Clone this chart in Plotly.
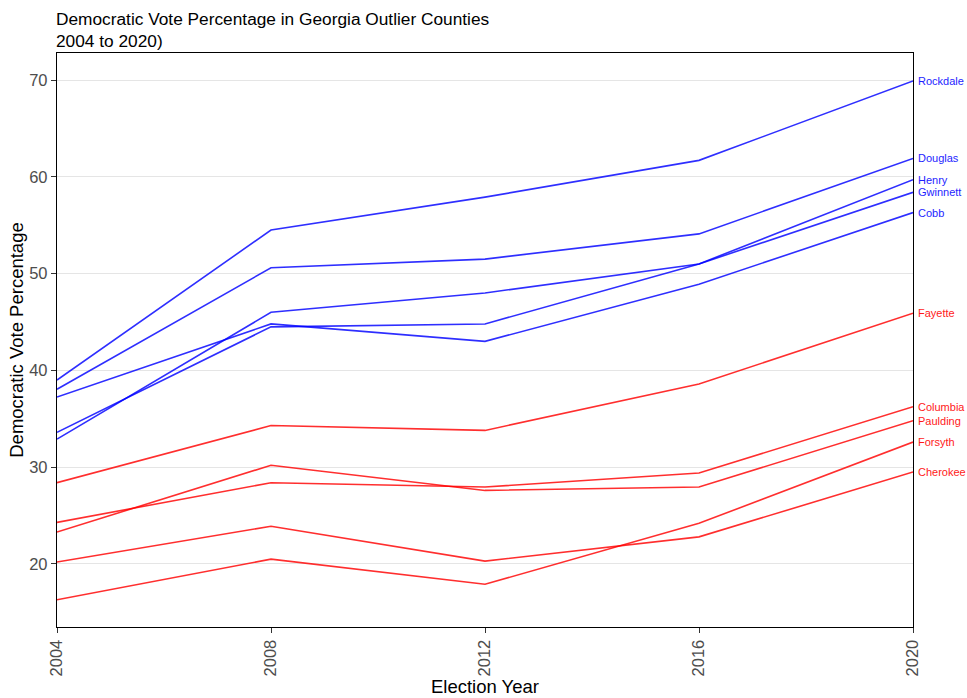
import plotly.graph_objects as go

years = [2004, 2008, 2012, 2016, 2020]

blue_counties = ["Rockdale", "Douglas", "Henry", "Gwinnett", "Cobb"]
blue_values = [
    [39.0, 54.5, 57.9, 61.7, 69.9],
    [38.05, 50.6, 51.5, 54.1, 61.9],
    [32.9, 46.0, 48.0, 51.0, 59.7],
    [33.6, 44.5, 44.8, 51.0, 58.4],
    [37.25, 44.8, 43.0, 48.9, 56.3],
]

red_counties = ["Fayette", "Columbia", "Paulding", "Forsyth", "Cherokee"]
red_values = [
    [28.4, 34.3, 33.8, 38.6, 45.9],
    [24.3, 28.4, 27.95, 29.4, 36.25],
    [23.3, 30.2, 27.6, 27.95, 34.8],
    [16.3, 20.5, 17.9, 24.2, 32.6],
    [20.2, 23.9, 20.3, 22.8, 29.5],
]

y_ticks = [20, 30, 40, 50, 60, 70]
x_ticks = [2004, 2008, 2012, 2016, 2020]

BLUE = "rgba(0,0,255,0.82)"
RED = "rgba(255,0,0,0.82)"
LABEL_BLUE = "rgb(30,30,255)"
LABEL_RED = "rgb(255,25,25)"
FONT = "Liberation Sans, Arial, sans-serif"

fig = go.Figure()
annotations = []
for names, vals, col, lcol in [
    (blue_counties, blue_values, BLUE, LABEL_BLUE),
    (red_counties, red_values, RED, LABEL_RED),
]:
    for name, v in zip(names, vals):
        fig.add_trace(go.Scatter(
            x=years, y=v, mode="lines", name=name,
            line=dict(color=col, width=1.6), showlegend=False,
        ))
        annotations.append(dict(
            x=years[-1], y=v[-1], xref="x", yref="y", text=name,
            showarrow=False, xanchor="left", yanchor="middle", xshift=3,
            font=dict(size=11, color=lcol, family=FONT),
        ))

annotations.append(dict(
    text="Democratic Vote Percentage in Georgia Outlier Counties<br>2004 to 2020)",
    xref="paper", yref="paper", x=0, y=1, xanchor="left", yanchor="bottom",
    xshift=-3, yshift=0, showarrow=False, align="left",
    font=dict(size=17.3, color="black", family=FONT),
))

fig.update_layout(
    width=967, height=698,
    margin=dict(l=57, r=54, t=53, b=71, autoexpand=False),
    plot_bgcolor="white", paper_bgcolor="white",
    font=dict(family=FONT, color="#1a1a1a"),
    annotations=annotations,
)

fig.update_xaxes(
    range=[2004, 2020], tickmode="array", tickvals=x_ticks,
    ticktext=[str(t) for t in x_ticks], tickangle=-90, automargin=False,
    showgrid=False, zeroline=False,
    showline=True, linecolor="black", linewidth=1.3, mirror=True,
    ticks="outside", ticklen=5, tickcolor="#333333",
    tickfont=dict(size=16.5, color="#4d4d4d"),
    title=dict(text="Election Year", font=dict(size=18.5, color="black"), standoff=2),
)
fig.update_yaxes(
    range=[13.49, 72.79], tickmode="array", tickvals=y_ticks, automargin=False,
    showgrid=True, gridcolor="#e5e5e5", gridwidth=1, zeroline=False,
    showline=True, linecolor="black", linewidth=1.3, mirror=True,
    ticks="outside", ticklen=5, tickcolor="#333333",
    tickfont=dict(size=16.5, color="#4d4d4d"),
    title=dict(text="Democratic Vote Percentage", font=dict(size=18.5, color="black"), standoff=0),
)

fig.write_html("out.html", config={"displayModeBar": False},
               post_script="document.body.style.margin='0px';")
